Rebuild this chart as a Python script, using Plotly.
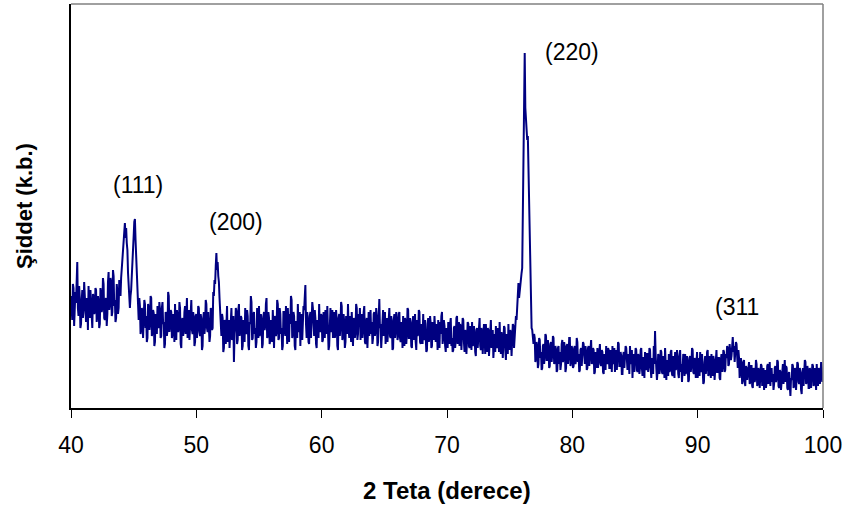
import plotly.graph_objects as go

# 2-theta start of each row (20 points per row, step 0.05 deg), plus final point at 100
row_starts = list(range(40, 100))
step = 0.05

intensity_rows = [
    [112, 96, 88, 124, 120, 82, 95, 116, 105, 128, 146, 100, 92, 122, 110, 80, 84, 106, 118, 90],   # 40
    [98, 126, 115, 92, 86, 110, 108, 78, 122, 100, 90, 118, 104, 86, 80, 114, 112, 94, 96, 120],   # 41
    [118, 86, 92, 112, 106, 80, 84, 120, 114, 96, 100, 130, 124, 90, 88, 108, 110, 82, 94, 126],   # 42
    [136, 98, 104, 130, 126, 92, 96, 138, 132, 102, 108, 86, 90, 124, 116, 94, 100, 128, 122, 112], # 43
    [130, 140, 152, 164, 172, 178, 185, 170, 180, 165, 158, 135, 120, 108, 100, 112, 118, 132, 142, 160],  # 44
    [172, 186, 189, 168, 150, 124, 108, 96, 88, 110, 102, 74, 78, 100, 96, 70, 84, 108, 104, 80],   # 45
    [92, 66, 70, 104, 100, 78, 84, 112, 110, 72, 76, 98, 95, 62, 66, 94, 88, 74, 102, 84],   # 46
    [80, 106, 98, 70, 72, 100, 106, 84, 86, 60, 64, 96, 94, 72, 78, 116, 112, 76, 82, 98],   # 47
    [96, 70, 74, 94, 88, 66, 104, 82, 68, 98, 92, 76, 80, 106, 100, 64, 60, 88, 90, 72],     # 48
    [78, 96, 102, 74, 86, 110, 70, 90, 98, 68, 84, 104, 108, 78, 74, 96, 90, 62, 66, 92],    # 49
    [94, 70, 80, 102, 100, 76, 72, 94, 88, 58, 62, 90, 96, 74, 82, 108, 104, 80, 76, 96],    # 50
    [86, 66, 72, 100, 98, 78, 80, 116, 112, 128, 124, 142, 155, 138, 146, 132, 126, 110, 98, 84],  # 51
    [72, 94, 90, 56, 60, 88, 84, 64, 94, 102, 66, 80, 88, 60, 76, 98, 100, 68, 70, 92],      # 52
    [46, 74, 82, 100, 96, 64, 68, 98, 104, 72, 78, 92, 90, 58, 62, 88, 86, 66, 100, 76],     # 53
    [74, 98, 92, 62, 58, 86, 84, 112, 106, 68, 70, 94, 96, 74, 80, 60, 66, 100, 94, 70],     # 54
    [102, 72, 76, 94, 88, 60, 64, 92, 96, 78, 82, 104, 110, 70, 72, 96, 90, 64, 68, 88],     # 55
    [84, 66, 98, 80, 60, 92, 90, 72, 76, 108, 104, 68, 70, 100, 94, 74, 80, 58, 62, 96],     # 56
    [96, 78, 72, 102, 88, 64, 100, 82, 66, 94, 84, 112, 108, 70, 74, 96, 92, 62, 58, 86],    # 57
    [86, 70, 104, 78, 76, 96, 62, 90, 94, 68, 80, 102, 98, 110, 123, 84, 70, 96, 88, 66],    # 58
    [64, 92, 96, 70, 82, 106, 100, 74, 72, 98, 90, 64, 60, 88, 86, 70, 104, 80, 76, 94],     # 59
    [92, 66, 68, 96, 84, 70, 98, 80, 74, 102, 88, 58, 62, 94, 100, 76, 80, 98, 70, 86],      # 60
    [96, 70, 76, 98, 88, 62, 58, 90, 94, 72, 82, 106, 102, 68, 72, 94, 86, 60, 66, 92],      # 61
    [90, 74, 104, 80, 70, 92, 84, 66, 96, 78, 62, 90, 88, 70, 76, 104, 100, 68, 74, 94],     # 62
    [82, 100, 68, 88, 94, 70, 78, 96, 102, 66, 64, 86, 90, 60, 84, 96, 72, 94, 98, 74],      # 63
    [86, 64, 70, 94, 96, 72, 78, 100, 92, 62, 66, 90, 109, 80, 84, 60, 74, 92, 98, 72],      # 64
    [80, 96, 64, 84, 90, 66, 76, 98, 100, 72, 70, 92, 86, 58, 60, 88, 94, 70, 78, 96],       # 65
    [88, 68, 72, 94, 96, 70, 66, 86, 82, 60, 92, 74, 62, 90, 86, 64, 74, 100, 98, 70],       # 66
    [70, 90, 84, 62, 60, 86, 92, 68, 78, 94, 66, 58, 88, 72, 74, 98, 96, 66, 64, 84],        # 67
    [82, 64, 94, 72, 68, 88, 76, 56, 58, 84, 90, 66, 72, 92, 84, 60, 62, 86, 80, 68],        # 68
    [92, 70, 66, 84, 78, 58, 88, 72, 60, 86, 74, 92, 96, 64, 70, 88, 82, 62, 56, 80],        # 69
    [76, 60, 86, 70, 64, 84, 90, 62, 70, 56, 58, 80, 82, 60, 68, 90, 92, 64, 74, 86],        # 70
    [62, 84, 80, 58, 72, 90, 88, 66, 56, 78, 76, 54, 66, 86, 84, 62, 60, 82, 78, 58],        # 71
    [86, 62, 64, 82, 74, 56, 52, 78, 80, 60, 70, 88, 90, 62, 58, 80, 76, 54, 66, 84],        # 72
    [72, 54, 84, 64, 56, 80, 78, 52, 62, 84, 88, 60, 68, 78, 50, 72, 74, 56, 82, 62],        # 73
    [60, 80, 76, 56, 86, 62, 54, 76, 70, 50, 64, 82, 80, 58, 48, 74, 72, 54, 84, 64],        # 74
    [58, 78, 74, 52, 66, 84, 82, 60, 70, 90, 92, 88, 100, 112, 125, 110, 118, 128, 131, 135],  # 75
    [140, 205, 262, 322, 355, 300, 290, 272, 268, 272, 236, 225, 160, 118, 90, 80, 78, 70, 64, 74],  # 76
    [70, 46, 50, 66, 62, 40, 44, 70, 68, 50, 56, 38, 40, 62, 64, 44, 52, 74, 72, 48],        # 77
    [48, 68, 60, 40, 42, 64, 66, 46, 54, 72, 70, 44, 46, 62, 58, 36, 38, 60, 62, 44],        # 78
    [56, 38, 44, 64, 68, 46, 50, 66, 60, 36, 40, 62, 64, 44, 52, 70, 70, 42, 46, 62],        # 79
    [58, 40, 42, 60, 62, 44, 48, 70, 66, 46, 54, 36, 38, 58, 60, 42, 50, 66, 64, 44],        # 80
    [44, 62, 56, 38, 40, 60, 62, 42, 50, 66, 68, 44, 46, 60, 58, 34, 36, 56, 54, 40],        # 81
    [60, 40, 48, 62, 64, 44, 42, 58, 56, 36, 34, 54, 52, 38, 62, 46, 44, 60, 58, 40],        # 82
    [40, 58, 54, 36, 62, 44, 46, 60, 36, 52, 58, 38, 50, 66, 64, 42, 42, 56, 52, 34],        # 83
    [34, 52, 56, 40, 48, 62, 60, 38, 38, 54, 50, 34, 62, 46, 44, 58, 30, 50, 54, 36],        # 84
    [46, 60, 58, 38, 36, 54, 52, 34, 40, 58, 60, 40, 32, 50, 50, 30, 56, 42, 38, 54],        # 85
    [54, 36, 42, 60, 58, 40, 30, 50, 48, 34, 62, 44, 77, 52, 44, 28, 36, 54, 52, 34],        # 86
    [40, 58, 56, 36, 34, 52, 50, 30, 60, 44, 28, 48, 46, 32, 54, 36, 38, 56, 58, 34],        # 87
    [32, 52, 48, 30, 56, 38, 40, 58, 52, 34, 30, 50, 58, 36, 44, 26, 36, 54, 50, 32],        # 88
    [54, 34, 38, 52, 46, 26, 28, 50, 52, 36, 42, 60, 58, 36, 34, 50, 48, 30, 40, 56],        # 89
    [30, 48, 50, 32, 56, 38, 36, 54, 44, 24, 26, 46, 52, 34, 40, 56, 58, 32, 34, 52],        # 90
    [46, 30, 54, 38, 32, 52, 48, 28, 40, 56, 58, 36, 36, 50, 50, 30, 28, 48, 54, 36],        # 91
    [42, 58, 56, 36, 38, 54, 50, 62, 60, 42, 44, 64, 58, 48, 52, 66, 71, 56, 62, 46],        # 92
    [56, 66, 64, 44, 40, 58, 50, 30, 36, 50, 44, 24, 28, 46, 48, 26, 22, 42, 40, 28],        # 93
    [34, 44, 46, 24, 26, 42, 42, 22, 20, 40, 38, 26, 30, 48, 44, 22, 24, 40, 36, 20],        # 94
    [28, 44, 42, 22, 32, 40, 18, 34, 38, 20, 26, 42, 44, 24, 30, 46, 22, 36, 40, 26],        # 95
    [34, 18, 24, 40, 42, 26, 30, 48, 46, 22, 20, 38, 36, 18, 28, 44, 44, 24, 32, 48],        # 96
    [26, 42, 40, 20, 18, 34, 36, 22, 12, 30, 28, 44, 42, 20, 22, 40, 38, 18, 30, 46],        # 97
    [44, 26, 24, 40, 36, 18, 14, 34, 40, 22, 32, 48, 46, 24, 26, 42, 38, 20, 20, 40],        # 98
    [36, 20, 28, 44, 42, 22, 24, 40, 34, 18, 44, 28, 22, 40, 38, 24, 30, 46, 40, 26],        # 99
]
last_point = (100.0, 32)

peak_labels = ["(111)", "(200)", "(220)", "(311"]
peak_label_x = [45.35, 53.17, 79.97, 93.14]
peak_label_y = [223, 186, 356, 101]

x_ticks = [40, 50, 60, 70, 80, 90, 100]

two_theta = []
intensity = []
for start, row in zip(row_starts, intensity_rows):
    for i, v in enumerate(row):
        two_theta.append(round(start + i * step, 3))
        intensity.append(v)
two_theta.append(last_point[0])
intensity.append(last_point[1])

fig = go.Figure()
fig.add_trace(go.Scatter(
    x=two_theta, y=intensity, mode="lines",
    line=dict(color="#000080", width=2),
    showlegend=False, hoverinfo="skip",
))

font_family = "Liberation Sans, Arial, sans-serif"

for t, xx, yy in zip(peak_labels, peak_label_x, peak_label_y):
    fig.add_annotation(x=xx, y=yy, xref="x", yref="y", text=t, showarrow=False,
                       font=dict(family=font_family, size=23, color="black"),
                       xanchor="center", yanchor="middle")

fig.add_annotation(x=0.5, y=-0.2054, xref="paper", yref="paper",
                   text="<b>2 Teta (derece)</b>", showarrow=False,
                   font=dict(family=font_family, size=24, color="black"),
                   xanchor="center", yanchor="middle")
fig.add_annotation(x=-0.0625, y=0.5, xref="paper", yref="paper",
                   text="<b>Şiddet (k.b.)</b>", showarrow=False, textangle=-90,
                   font=dict(family=font_family, size=22, color="black"),
                   xanchor="center", yanchor="middle")

# gray top and right frame lines
fig.add_shape(type="line", xref="paper", yref="paper", x0=0, x1=1, y0=1, y1=1,
              line=dict(color="#808080", width=1.5))
fig.add_shape(type="line", xref="paper", yref="paper", x0=1, x1=1, y0=0, y1=1,
              line=dict(color="#808080", width=1.5))

fig.update_layout(
    width=848, height=508,
    margin=dict(l=71, r=25, t=4, b=100),
    paper_bgcolor="white", plot_bgcolor="white",
    font=dict(family=font_family, color="black"),
    xaxis=dict(range=[40, 100], tickvals=x_ticks, ticktext=[str(v) for v in x_ticks],
               ticks="outside", ticklen=8, tickwidth=1, tickcolor="black",
               showline=True, linecolor="black", linewidth=1.5,
               showgrid=False, zeroline=False,
               tickfont=dict(family=font_family, size=23, color="black"),
               ticklabelstandoff=8),
    yaxis=dict(range=[0, 404], showticklabels=False, ticks="",
               showline=True, linecolor="black", linewidth=1.5,
               showgrid=False, zeroline=False),
)

fig.write_html("out.html")
